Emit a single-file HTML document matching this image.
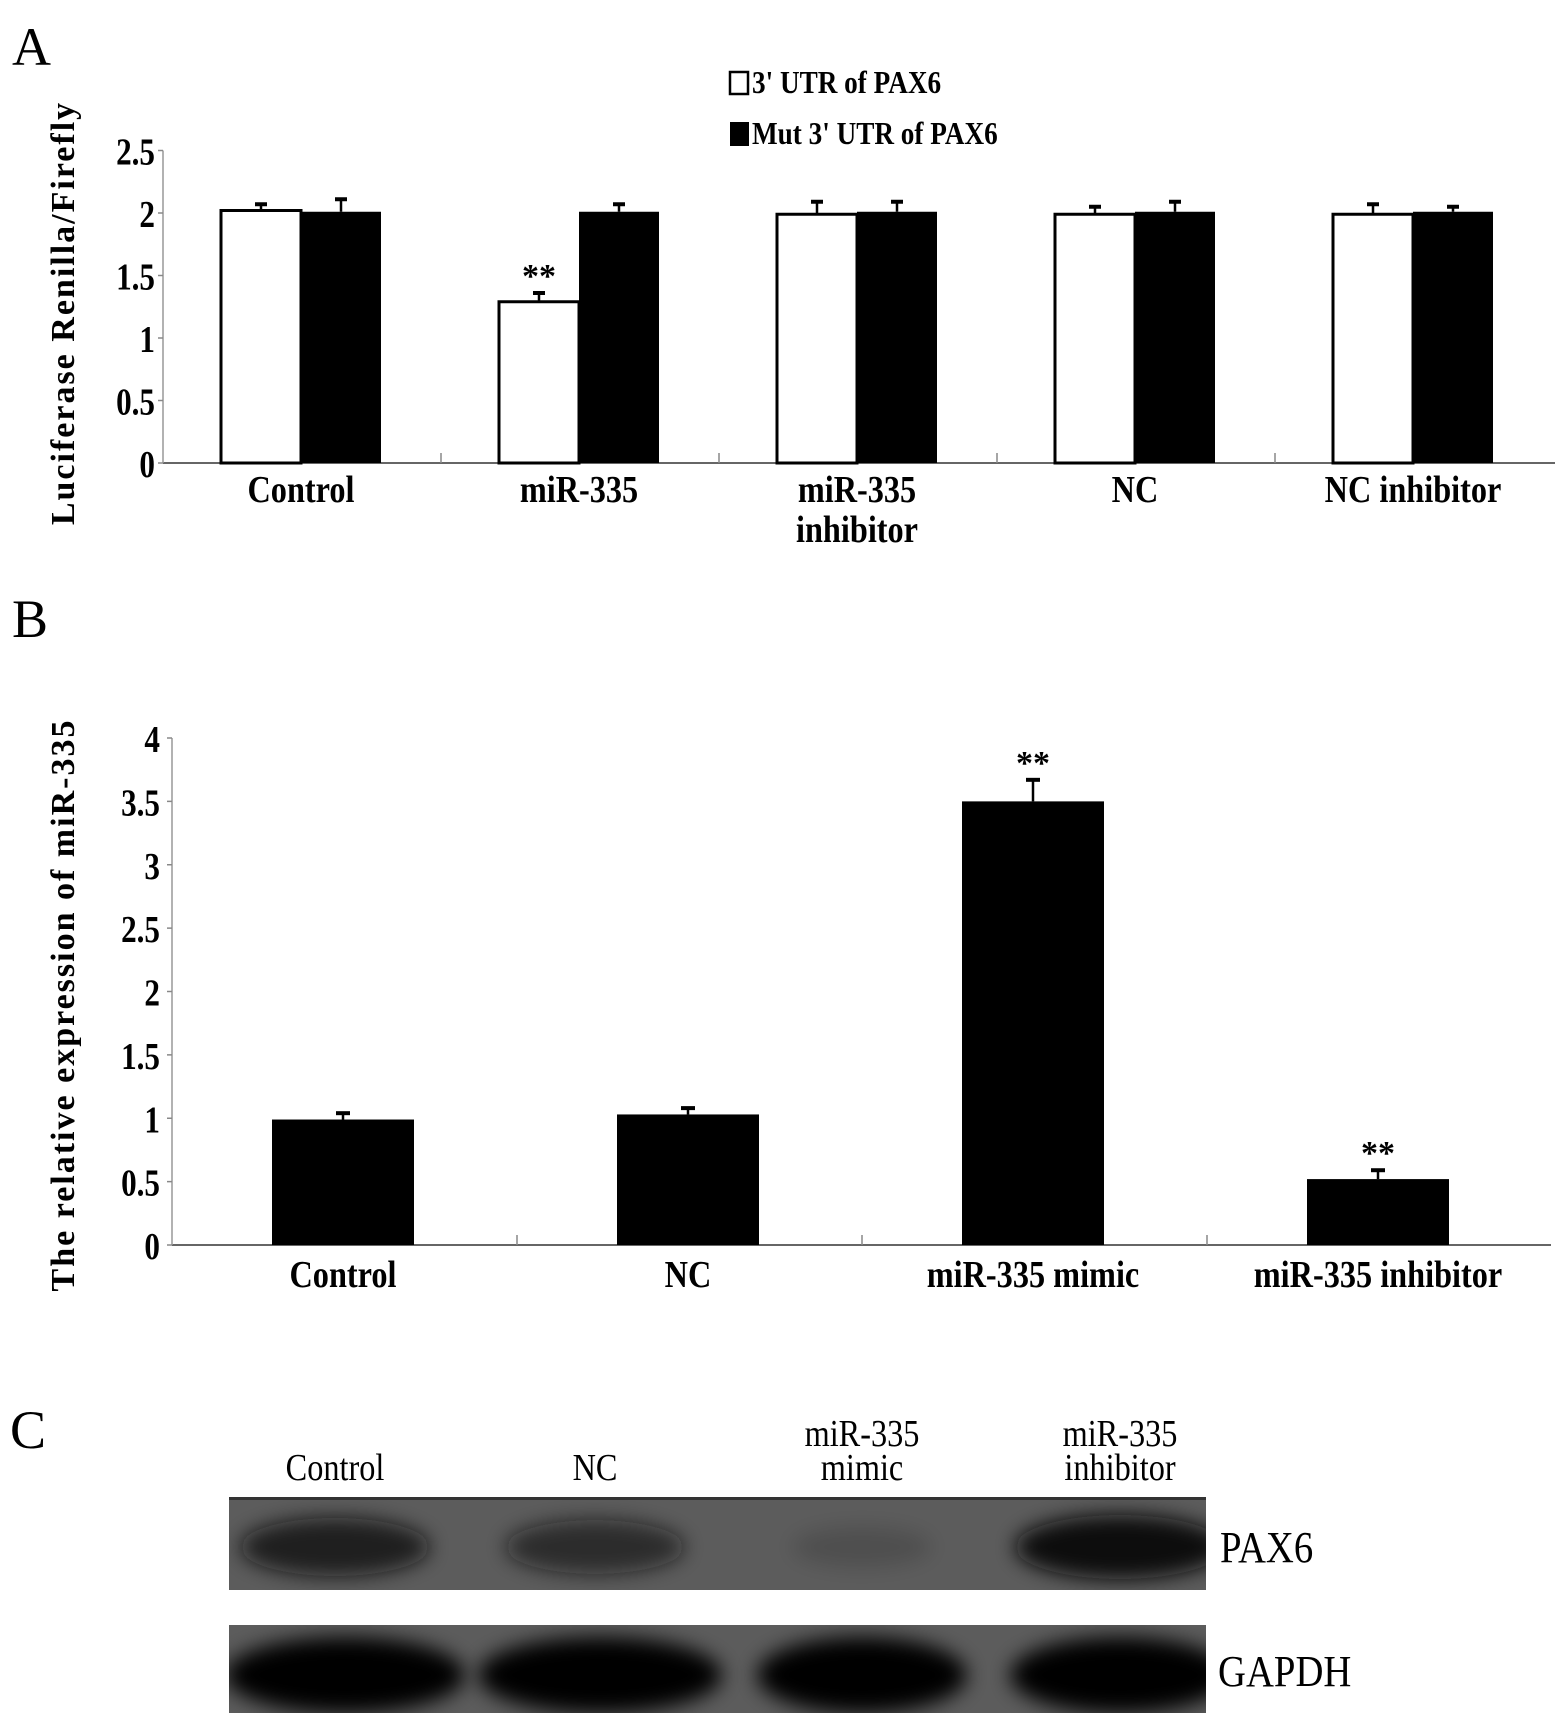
<!DOCTYPE html>
<html><head><meta charset="utf-8"><style>
html,body{margin:0;padding:0;background:#fff;}
svg{display:block;font-family:"Liberation Serif",serif;}
</style></head><body>
<svg id="fig" width="1559" height="1721" viewBox="0 0 1559 1721" xmlns="http://www.w3.org/2000/svg">
<defs>
<filter id="blur" x="-30%" y="-80%" width="160%" height="260%"><feGaussianBlur stdDeviation="10"/></filter>
<clipPath id="clip1"><rect x="229" y="1497" width="977" height="93"/></clipPath>
<clipPath id="clip2"><rect x="229" y="1625" width="977" height="88"/></clipPath>
</defs>
<text x="12" y="65" font-size="54">A</text>
<text x="12" y="637" font-size="54">B</text>
<text x="10" y="1448" font-size="54">C</text>
<g id="chartA"></g>
<g id="chartB"></g>
<g id="blot"></g>
</svg>
<script>
const aCategories=[["Control"],["miR-335"],["miR-335","inhibitor"],["NC"],["NC inhibitor"]];
const aWild=[2.02,1.29,1.99,1.99,1.99];
const aWildErr=[0.05,0.07,0.10,0.06,0.08];
const aMut=[2.01,2.01,2.01,2.01,2.01];
const aMutErr=[0.10,0.06,0.08,0.08,0.04];
const aTicks=["0","0.5","1","1.5","2","2.5"];
const aStars=["","**","","",""];

const bCategories=["Control","NC","miR-335 mimic","miR-335 inhibitor"];
const bValues=[0.99,1.03,3.5,0.52];
const bErr=[0.05,0.05,0.17,0.07];
const bTicks=["0","0.5","1","1.5","2","2.5","3","3.5","4"];
const bStars=["","","**","**"];

const blotLanes=[["Control"],["NC"],["miR-335","mimic"],["miR-335","inhibitor"]];
const pax6Intensity=[0.8,0.65,0.15,1.0];
const gapdhIntensity=[1.0,1.0,1.0,1.0];

const NS="http://www.w3.org/2000/svg";
function mk(parent,tag,attrs,text){const e=document.createElementNS(NS,tag);for(const k in attrs)e.setAttribute(k,attrs[k]);if(text!==undefined)e.textContent=text;parent.appendChild(e);return e;}
// condensed bold text helper (scaled horizontally)
function ctext(parent,x,y,size,anchor,str,sx){const t=mk(parent,'text',{x:0,y:0,'font-size':size,'font-weight':'bold','text-anchor':anchor,transform:`translate(${x},${y}) scale(${sx||0.85},1)`},str);return t;}

// ---- Chart A ----
(function(){
const g=document.getElementById('chartA');
const x0=163,x1=1555,y0=463,yTop=150.5,vmax=2.5;
const catW=278;
const y=v=>y0-(v/vmax)*(y0-yTop);
const cx=i=>x0+i*catW;
let e=mk(g,'line',{x1:x0,y1:y0,x2:x1,y2:y0,stroke:'#666','stroke-width':2});

e=mk(g,'line',{x1:x0,y1:y0,x2:x0,y2:yTop,stroke:'#999','stroke-width':1.5});

aTicks.forEach(t=>{const v=parseFloat(t);const yy=y(v);
 mk(g,'line',{x1:x0-5,y1:yy,x2:x0,y2:yy,stroke:'#888','stroke-width':1.5});
 const tx=ctext(g,x0-8,yy+14,38,'end',t,0.82);
 });
for(let i=1;i<aCategories.length;i++){mk(g,'line',{x1:cx(i),y1:y0,x2:cx(i),y2:y0-10,stroke:'#888','stroke-width':1.5});}
aCategories.forEach((c,i)=>{
 const bx=cx(i)+58,w=80;
 let r=mk(g,'rect',{x:bx,y:y(aWild[i]),width:w,height:y0-y(aWild[i]),fill:'#fff',stroke:'#000','stroke-width':3});
 
 let ex=bx+w/2;
 mk(g,'line',{x1:ex,y1:y(aWild[i]),x2:ex,y2:y(aWild[i]+aWildErr[i]),stroke:'#000','stroke-width':2.5});
 mk(g,'line',{x1:ex-6,y1:y(aWild[i]+aWildErr[i]),x2:ex+6,y2:y(aWild[i]+aWildErr[i]),stroke:'#000','stroke-width':4});
 r=mk(g,'rect',{x:bx+w,y:y(aMut[i]),width:w,height:y0-y(aMut[i]),fill:'#000'});
 
 ex=bx+w*1.5;
 mk(g,'line',{x1:ex,y1:y(aMut[i]),x2:ex,y2:y(aMut[i]+aMutErr[i]),stroke:'#000','stroke-width':2.5});
 mk(g,'line',{x1:ex-6,y1:y(aMut[i]+aMutErr[i]),x2:ex+6,y2:y(aMut[i]+aMutErr[i]),stroke:'#000','stroke-width':4});
 if(aStars[i]){const s=mk(g,'text',{x:bx+w/2,y:y(aWild[i]+aWildErr[i])-6,'font-size':34,'font-weight':'bold','text-anchor':'middle'},aStars[i]);
  }
 c.forEach((line,k)=>{const t=ctext(g,bx+w,502+k*40,38,'middle',line,0.85);
  });
});
let yl=mk(g,'text',{x:0,y:0,'font-size':34,'font-weight':'bold','text-anchor':'middle',transform:'translate(74,313) rotate(-90)','letter-spacing':'2'},'Luciferase Renilla/Firefly');

let lg=mk(g,'rect',{x:730,y:72,width:18,height:22,fill:'#fff',stroke:'#000','stroke-width':2.5});

let lt=ctext(g,752,93,32,'start',"3' UTR of PAX6",0.85);

lg=mk(g,'rect',{x:730,y:122,width:19,height:24,fill:'#000'});

lt=ctext(g,752,144,32,'start',"Mut 3' UTR of PAX6",0.85);

})();

// ---- Chart B ----
(function(){
const g=document.getElementById('chartB');
const x0=172,x1=1551,y0=1245,yTop=738,vmax=4;
const catW=345;
const y=v=>y0-(v/vmax)*(y0-yTop);
const cx=i=>x0+i*catW;
let e=mk(g,'line',{x1:x0,y1:y0,x2:x1,y2:y0,stroke:'#666','stroke-width':2});

e=mk(g,'line',{x1:x0,y1:y0,x2:x0,y2:yTop,stroke:'#999','stroke-width':1.5});

bTicks.forEach(t=>{const v=parseFloat(t);const yy=y(v);
 mk(g,'line',{x1:x0-5,y1:yy,x2:x0,y2:yy,stroke:'#888','stroke-width':1.5});
 const tx=ctext(g,x0-12,yy+14,38,'end',t,0.82);
 });
for(let i=1;i<bCategories.length;i++){mk(g,'line',{x1:cx(i),y1:y0,x2:cx(i),y2:y0-10,stroke:'#888','stroke-width':1.5});}
bCategories.forEach((c,i)=>{
 const bx=cx(i)+100,w=142;
 const r=mk(g,'rect',{x:bx,y:y(bValues[i]),width:w,height:y0-y(bValues[i]),fill:'#000'});
 
 const ex=bx+w/2,et=y(bValues[i]+bErr[i]);
 mk(g,'line',{x1:ex,y1:y(bValues[i]),x2:ex,y2:et,stroke:'#000','stroke-width':2.5});
 mk(g,'line',{x1:ex-7,y1:et,x2:ex+7,y2:et,stroke:'#000','stroke-width':4});
 if(bStars[i]){const s=mk(g,'text',{x:ex,y:et-6,'font-size':34,'font-weight':'bold','text-anchor':'middle'},bStars[i]);
  }
 const t=ctext(g,ex,1287,38,'middle',c,0.85);
 
});
let yl=mk(g,'text',{x:0,y:0,'font-size':34,'font-weight':'bold','text-anchor':'middle',transform:'translate(74,1005) rotate(-90)','letter-spacing':'2'},'The relative expression of miR-335');

})();

// ---- Blot ----
(function(){
const g=document.getElementById('blot');
const bx0=229,bx1=1206;
const laneC=[335,595,862,1120];
blotLanes.forEach((lines,i)=>{
 lines.forEach((ln,k)=>{
  const yy=lines.length===1?1480:1446+k*34;
  const t=mk(g,'text',{x:0,y:0,'font-size':38,'text-anchor':'middle',transform:`translate(${laneC[i]},${yy}) scale(0.85,1)`},ln);
  
 });
});
let r=mk(g,'rect',{x:bx0,y:1497,width:bx1-bx0,height:93,fill:'#5c5c5c'});

mk(g,'rect',{x:bx0,y:1497,width:bx1-bx0,height:3,fill:'#333'});
r=mk(g,'rect',{x:bx0,y:1625,width:bx1-bx0,height:88,fill:'#5c5c5c'});

const g1=mk(g,'g',{'clip-path':'url(#clip1)'});
const g2=mk(g,'g',{'clip-path':'url(#clip2)'});
const paxW=[95,90,70,105];
pax6Intensity.forEach((v,i)=>{
 const b=mk(g1,'ellipse',{cx:laneC[i],cy:1547,rx:paxW[i],ry:18+v*14,fill:'#0a0a0a','fill-opacity':v,filter:'url(#blur)'});
 
});
const gW=[120,122,105,110];
const gC=[345,600,862,1120];
gapdhIntensity.forEach((v,i)=>{
 const b=mk(g2,'ellipse',{cx:gC[i],cy:1675,rx:gW[i],ry:38,fill:'#050505','fill-opacity':v,filter:'url(#blur)'});
 
});
let t=mk(g,'text',{x:0,y:0,'font-size':44,transform:'translate(1220,1562) scale(0.88,1)'},'PAX6');

t=mk(g,'text',{x:0,y:0,'font-size':44,transform:'translate(1218,1686) scale(0.88,1)'},'GAPDH');

})();
</script>
</body></html>
